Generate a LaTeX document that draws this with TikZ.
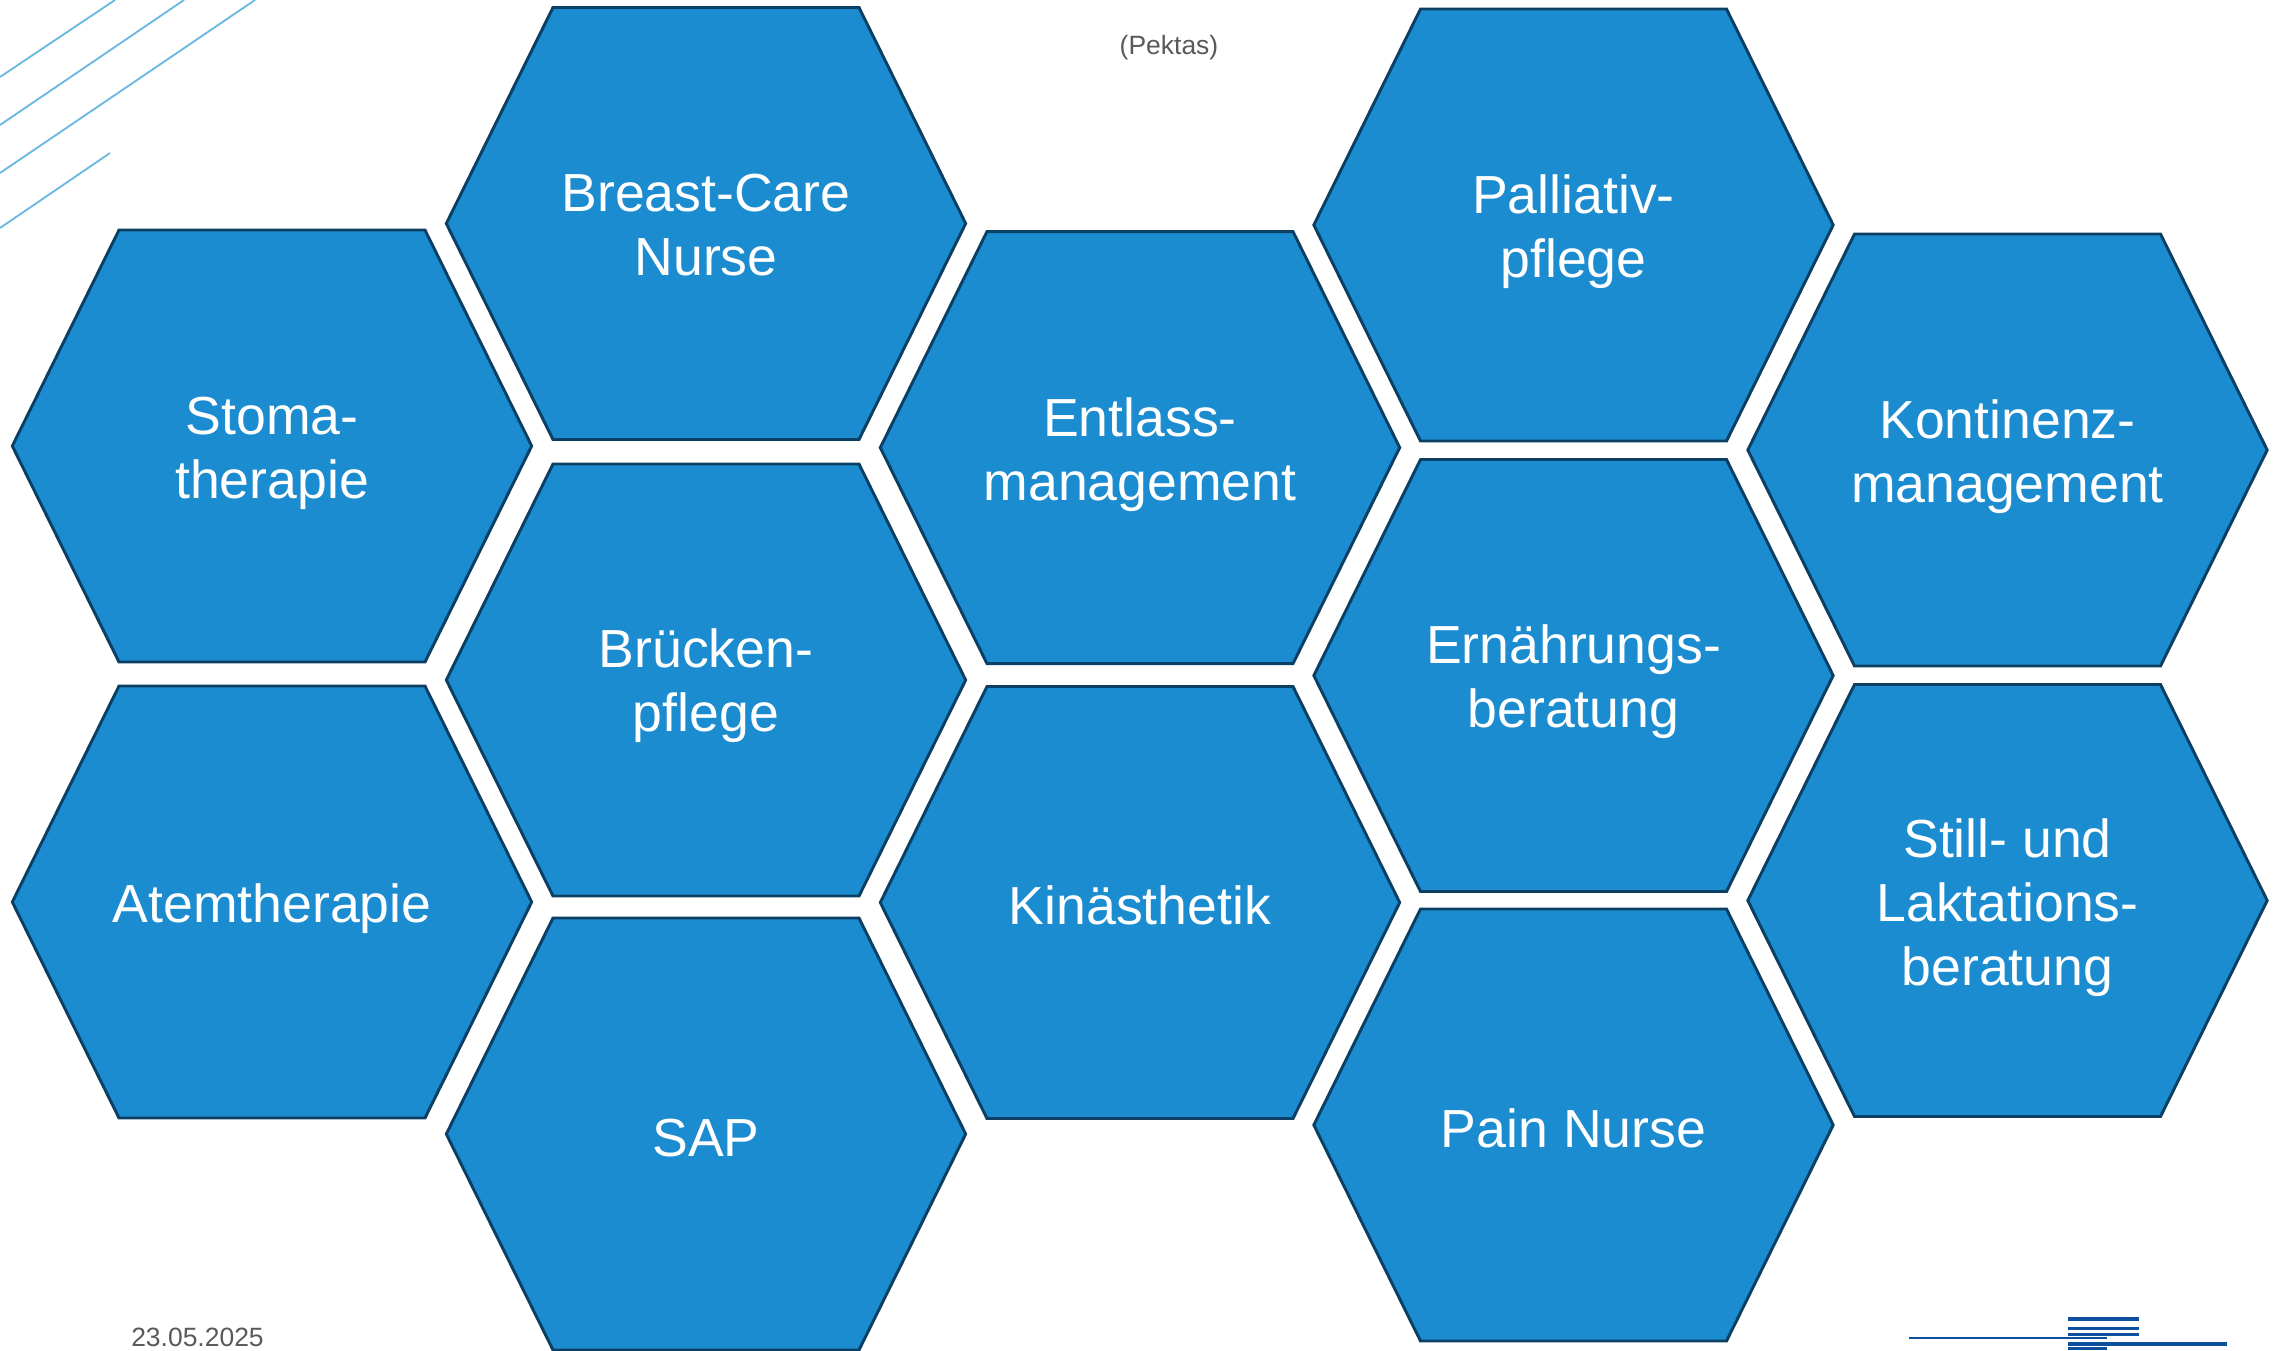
\documentclass[tikz,border=0pt]{standalone}
\usepackage{fontspec}
\setmainfont{Liberation Sans}
\definecolor{hexfill}{HTML}{1C8CD0}
\definecolor{hexline}{HTML}{0B3F63}
\definecolor{deco}{HTML}{6CB8E0}
\definecolor{logo}{HTML}{0B4F9E}
\definecolor{greytext}{HTML}{595959}
\tikzset{
  hexshape/.style={fill=hexfill,draw=hexline,line width=2.2pt,line join=miter},
  hextext/.style={text=white,align=center,font=\fontsize{40.2}{48}\selectfont,inner sep=0pt},
  decoline/.style={draw=deco,line width=1.4pt},
  logobar/.style={fill=logo,draw=none},
  smalltext/.style={text=greytext,font=\fontsize{19.85}{23}\selectfont,inner sep=0pt}
}
\newcommand{\hexa}[5]{%
  \draw[hexshape] (#2-259.7,#3) -- (#2-153,#3-216) -- (#2+153,#3-216) -- (#2+259.7,#3) -- (#2+153,#3+216) -- (#2-153,#3+216) -- cycle;
  \node[hextext] (#1) at (#2,#3+#5) {#4};}
\begin{document}
\begin{tikzpicture}[x=0.75pt,y=-0.75pt]
\useasboundingbox (0,0) rectangle (2275,1350);
\clip (0,0) rectangle (2275,1350);
\coordinate (d1a) at (0,77); \coordinate (d1b) at (115,0);
\coordinate (d2a) at (0,125); \coordinate (d2b) at (184,0);
\coordinate (d3a) at (0,173); \coordinate (d3b) at (255,0);
\coordinate (d4a) at (0,228); \coordinate (d4b) at (110,153);
\draw[decoline] (d1a) -- (d1b);
\draw[decoline] (d2a) -- (d2b);
\draw[decoline] (d3a) -- (d3b);
\draw[decoline] (d4a) -- (d4b);
\hexa{stoma}{272}{446}{Stoma-\\therapie}{7}
\hexa{breast}{706}{223.5}{Breast-Care\\Nurse}{1.5}
\hexa{entlass}{1140}{447.6}{Entlass-\\management}{7}
\hexa{palliativ}{1573.5}{225}{Palliativ-\\pflege}{7}
\hexa{kontinenz}{2007.5}{450}{Kontinenz-\\management}{7}
\hexa{bruecken}{706}{680}{Brücken-\\pflege}{6}
\hexa{ernaehrung}{1573.5}{675.5}{Ernährungs-\\beratung}{6}
\hexa{atem}{272}{902}{Atemtherapie}{7}
\hexa{kinaesthetik}{1140}{902.5}{Kinästhetik}{3}
\hexa{still}{2007.5}{900.5}{Still- und\\Laktations-\\beratung}{7}
\hexa{sap}{706}{1134}{SAP}{4}
\hexa{pain}{1573.5}{1125}{Pain Nurse}{3}
\node[smalltext,anchor=base] (pektas) at (1169,54) {(Pektas)};
\node[smalltext,anchor=base west] (date) at (131,1346) {23.05.2025};
\fill[logobar] (2068,1317) rectangle (2139,1321);
\fill[logobar] (2068,1326.5) rectangle (2139,1329.5);
\fill[logobar] (2068,1333) rectangle (2139,1335.5);
\fill[logobar] (1909,1337) rectangle (2107,1339);
\fill[logobar] (2068,1341.5) rectangle (2227,1345.5);
\fill[logobar] (2068,1347) rectangle (2107,1350);
\end{tikzpicture}
\end{document}
